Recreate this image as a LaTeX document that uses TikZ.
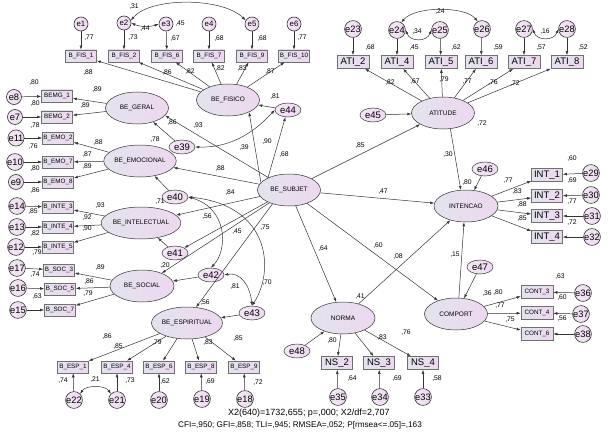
\documentclass[tikz,border=0pt]{standalone}
\usepackage{fontspec}
\setmainfont{Liberation Sans}
\usetikzlibrary{arrows.meta,shapes.geometric}
\definecolor{fillL}{HTML}{E3E3ED}
\definecolor{fillR}{HTML}{EDD8F0}
\definecolor{lineC}{HTML}{333333}
\definecolor{boxD}{HTML}{707070}
\begin{document}
\begin{tikzpicture}[x=1pt,y=-1pt,
  every node/.style={inner sep=0pt},
  box/.style={rectangle, draw=boxD, line width=0.6pt, left color=fillL, right color=fillR, minimum width=31pt, minimum height=12pt, font=\fontsize{6.3}{7}\selectfont},
  bigbox/.style={box, minimum width=32pt, minimum height=13pt, font=\fontsize{9.5}{10}\selectfont},
  lat/.style={ellipse, draw=lineC, line width=0.5pt, left color=fillL, right color=fillR, minimum width=63pt, minimum height=32pt, font=\fontsize{6.5}{7}\selectfont},
  erc/.style={circle, draw=lineC, line width=0.6pt, left color=fillR!60!white, right color=fillR, minimum size=15pt, font=\fontsize{9.3}{9}\selectfont},
  ercs/.style={erc, minimum size=14pt, font=\fontsize{7.8}{8}\selectfont},
  ere/.style={ellipse, draw=lineC, line width=0.5pt, left color=fillR!60!white, right color=fillR, minimum width=26pt, minimum height=14pt, font=\fontsize{9.5}{10}\selectfont},
  lab/.style={font=\fontsize{6.8}{7}\selectfont},
  arr/.style={draw=lineC, line width=0.5pt, -{Latex[length=4pt,width=2.8pt]}},
  cov/.style={draw=lineC, line width=0.5pt, {Latex[length=4pt,width=2.8pt]}-{Latex[length=4pt,width=2.8pt]}},
]
\useasboundingbox (0,0) rectangle (611,436);

% ---------- BE_FISICO block ----------
\node[ercs] (e1) at (81,24) {e1};
\node[ercs] (e2) at (124,23) {e2};
\node[ercs] (e3) at (166,24) {e3};
\node[ercs] (e4) at (209,24) {e4};
\node[ercs] (e5) at (252,24) {e5};
\node[ercs] (e6) at (294,24) {e6};
\node[box] (bf1) at (81,56) {B\_FIS\_1};
\node[box] (bf2) at (124,56) {B\_FIS\_2};
\node[box] (bf6) at (167,56) {B\_FIS\_6};
\node[box] (bf7) at (209,56) {B\_FIS\_7};
\node[box] (bf9) at (252,56) {B\_FIS\_9};
\node[box] (bf10) at (294,56) {B\_FIS\_10};
\node[lat] (bfis) at (228,100) {BE\_FISICO};
\node[ere] (e44) at (288,110) {e44};
\foreach \e/\b in {e1/bf1,e2/bf2,e3/bf6,e4/bf7,e5/bf9,e6/bf10} \draw[arr] (\e) -- (\b);
\foreach \b in {bf1,bf2,bf6,bf7,bf9,bf10} \draw[arr] (bfis) -- (\b);
\draw[arr] (e44) -- (bfis);
\draw[cov] (e2.20) .. controls (150,-3) and (222,-3) .. (e5.150);
\draw[cov] (e2.east) .. controls (140,27) and (150,27) .. (e3.west);
\node[lab] (l1) at (89,38) {,77};
\node[lab] (l2) at (133,38) {,73};
\node[lab] (l3) at (175,39) {,67};
\node[lab] (l4) at (219,39) {,68};
\node[lab] (l5) at (262,39) {,68};
\node[lab] (l6) at (302,38) {,77};
\node[lab] (l7) at (134,7) {,31};
\node[lab] (l8) at (145,29) {,44};
\node[lab] (l9) at (180,24) {,45};
\node[lab] (l10) at (88,73) {,88};
\node[lab] (l11) at (167,73) {,86};
\node[lab] (l12) at (190,72) {,82};
\node[lab] (l13) at (220,69) {,82};
\node[lab] (l14) at (242,69) {,83};
\node[lab] (l15) at (270,72) {,87};
\node[lab] (l16) at (275,97) {,81};

% ---------- BE_GERAL ----------
\node[lat] (bger) at (137,108) {BE\_GERAL};
\node[box] (bm1) at (57,96) {BEMG\_1};
\node[box] (bm2) at (57,117) {BEMG\_2};
\node[erc] (e8) at (14,97) {e8};
\node[erc] (e7) at (15,117) {e7};
\draw[arr] (e8) -- (bm1);
\draw[arr] (e7) -- (bm2);
\draw[arr] (bger) -- (bm1);
\draw[arr] (bger) -- (bm2);
\node[ere] (e39) at (182,147) {e39};
\draw[arr] (e39) -- (bger);
\node[lab] (l17) at (34,83) {,80};
\node[lab] (l18) at (35,104) {,80};
\node[lab] (l19) at (35,126) {,78};
\node[lab] (l20) at (97,90) {,89};
\node[lab] (l21) at (85,106) {,89};
\node[lab] (l22) at (172,123) {,86};

% ---------- BE_EMOCIONAL ----------
\node[lat, minimum width=66pt] (bemo) at (140,161) {BE\_EMOCIONAL};
\node[box] (bo2) at (58,138) {B\_EMO\_2};
\node[box] (bo7) at (58,162) {B\_EMO\_7};
\node[box] (bo8) at (58,182) {B\_EMO\_8};
\node[erc] (e11) at (16,138) {e11};
\node[erc] (e10) at (15,162) {e10};
\node[erc] (e9) at (16,182) {e9};
\draw[arr] (e11) -- (bo2);
\draw[arr] (e10) -- (bo7);
\draw[arr] (e9) -- (bo8);
\foreach \b in {bo2,bo7,bo8} \draw[arr] (bemo) -- (\b);
\node[ere] (e40) at (175,197) {e40};
\draw[arr] (e40) -- (bemo);
\node[lab] (l23) at (98,143) {,88};
\node[lab] (l24) at (87,155) {,87};
\node[lab] (l25) at (87,167) {,89};
\node[lab] (l26) at (33,147) {,76};
\node[lab] (l27) at (35,169) {,80};
\node[lab] (l28) at (35,191) {,86};
\node[lab] (l29) at (155,140) {,78};

% ---------- BE_INTELECTUAL ----------
\node[lat, minimum width=64pt] (bint) at (141,223) {BE\_INTELECTUAL};
\node[box] (bi3) at (58,207) {B\_INTE\_3};
\node[box] (bi4) at (58,227) {B\_INTE\_4};
\node[box] (bi5) at (58,247) {B\_INTE\_5};
\node[erc] (e14) at (17,206) {e14};
\node[erc] (e13) at (17,227) {e13};
\node[erc] (e12) at (16,247) {e12};
\draw[arr] (e14) -- (bi3);
\draw[arr] (e13) -- (bi4);
\draw[arr] (e12) -- (bi5);
\foreach \b in {bi3,bi4,bi5} \draw[arr] (bint) -- (\b);
\node[ere] (e41) at (175,253) {e41};
\draw[arr] (e41) -- (bint);
\node[lab] (l30) at (100,206) {,93};
\node[lab] (l31) at (87,218) {,92};
\node[lab] (l32) at (87,229) {,90};
\node[lab] (l33) at (33,212) {,85};
\node[lab] (l34) at (35,234) {,82};
\node[lab] (l35) at (37,253) {,79};
\node[lab] (l36) at (160,202) {,71};

% ---------- BE_SOCIAL ----------
\node[lat, minimum width=64pt] (bsoc) at (142,286) {BE\_SOCIAL};
\node[box] (bs3) at (59,270) {B\_SOC\_3};
\node[box] (bs5) at (60,289) {B\_SOC\_5};
\node[box] (bs7) at (60,310) {B\_SOC\_7};
\node[erc] (e17) at (17,268) {e17};
\node[erc] (e16) at (18,288) {e16};
\node[erc] (e15) at (18,310) {e15};
\draw[arr] (e17) -- (bs3);
\draw[arr] (e16) -- (bs5);
\draw[arr] (e15) -- (bs7);
\foreach \b in {bs3,bs5,bs7} \draw[arr] (bsoc) -- (\b);
\node[ere] (e42) at (211,275) {e42};
\draw[arr] (e42) -- (bsoc);
\node[lab] (l37) at (100,268) {,89};
\node[lab] (l38) at (89,282) {,86};
\node[lab] (l39) at (88,294) {,79};
\node[lab] (l40) at (35,275) {,74};
\node[lab] (l41) at (37,297) {,63};
\node[lab] (l42) at (165,266) {,20};

% ---------- BE_ESPIRITUAL ----------
\node[lat, minimum width=66pt] (besp) at (187,323) {BE\_ESPIRITUAL};
\node[ere] (e43) at (252,313) {e43};
\draw[arr] (e43) -- (besp);
\node[box] (bp1) at (73,367) {B\_ESP\_1};
\node[box] (bp4) at (117,367) {B\_ESP\_4};
\node[box] (bp6) at (159,367) {B\_ESP\_6};
\node[box] (bp8) at (201,367) {B\_ESP\_8};
\node[box] (bp9) at (244,367) {B\_ESP\_9};
\node[erc] (e22) at (74,400) {e22};
\node[erc] (e21) at (117,400) {e21};
\node[erc] (e20) at (159,400) {e20};
\node[erc] (e19) at (202,399) {e19};
\node[erc] (e18) at (245,399) {e18};
\foreach \e/\b in {e22/bp1,e21/bp4,e20/bp6,e19/bp8,e18/bp9} \draw[arr] (\e) -- (\b);
\foreach \b in {bp1,bp4,bp6,bp8,bp9} \draw[arr] (besp) -- (\b);
\draw[cov] (e22.45) .. controls (86,385) and (105,385) .. (e21.135);
\node[lab] (l43) at (107,337) {,86};
\node[lab] (l44) at (118,347) {,85};
\node[lab] (l45) at (157,343) {,79};
\node[lab] (l46) at (208,343) {,83};
\node[lab] (l47) at (238,339) {,85};
\node[lab] (l48) at (63,381) {,74};
\node[lab] (l49) at (130,381) {,73};
\node[lab] (l50) at (165,382) {,62};
\node[lab] (l51) at (210,382) {,69};
\node[lab] (l52) at (258,383) {,72};
\node[lab] (l53) at (95,380) {,21};
\node[lab] (l54) at (205,303) {,56};

% ---------- BE_SUBJET and second-order paths ----------
\node[lat] (bes) at (289,190) {BE\_SUBJET};
\draw[arr] (bes.165) -- (bfis.-30);
\draw[arr] (bes.150) -- (e44.-110);
\draw[arr] (bes) -- (bger.-15);
\draw[arr] (bes) -- (bemo);
\draw[arr] (bes) -- (bint);
\draw[arr] (bes) -- (e41);
\draw[arr] (bes) -- (bsoc);
\draw[arr] (bes.-140) -- (besp.60);
\draw[cov] (e39.east) .. controls (235,148) and (258,128) .. (e44.west);
\draw[cov] (e40.east) .. controls (228,208) and (228,250) .. (e42.north);
\draw[cov] (e40.east) .. controls (270,205) and (275,270) .. (e43.north);
\draw[cov] (e42.east) .. controls (240,272) and (250,285) .. (e43.north);
\node[lab] (l55) at (198,126) {,93};
\node[lab] (l56) at (267,142) {,90};
\node[lab] (l57) at (284,155) {,68};
\node[lab] (l58) at (244,148) {,39};
\node[lab] (l59) at (220,169) {,88};
\node[lab] (l60) at (230,193) {,84};
\node[lab] (l61) at (207,217) {,56};
\node[lab] (l62) at (237,232) {,45};
\node[lab] (l63) at (265,228) {,75};
\node[lab] (l64) at (235,287) {,81};
\node[lab] (l65) at (267,283) {,70};

% ---------- ATITUDE ----------
\node[lat] (ati) at (443,113) {ATITUDE};
\node[ere] (e45) at (373,115) {e45};
\draw[arr] (e45) -- (ati);
\node[bigbox] (a2) at (353,62) {ATI\_2};
\node[bigbox] (a4) at (397,62) {ATI\_4};
\node[bigbox] (a5) at (441,62) {ATI\_5};
\node[bigbox] (a6) at (481,62) {ATI\_6};
\node[bigbox] (a7) at (524,62) {ATI\_7};
\node[bigbox] (a8) at (567,62) {ATI\_8};
\node[erc, minimum size=16pt] (e23) at (353,29) {e23};
\node[erc, minimum size=16pt] (e24) at (397,30) {e24};
\node[erc, minimum size=16pt] (e25) at (440,30) {e25};
\node[erc, minimum size=16pt] (e26) at (482,29) {e26};
\node[erc, minimum size=16pt] (e27) at (524,29) {e27};
\node[erc, minimum size=16pt] (e28) at (567,29) {e28};
\foreach \e/\b in {e23/a2,e24/a4,e25/a5,e26/a6,e27/a7,e28/a8} \draw[arr] (\e) -- (\b);
\foreach \b in {a2,a4,a5,a6,a7,a8} \draw[arr] (ati) -- (\b);
\draw[cov] (e24.east) .. controls (410,42) and (427,42) .. (e25.west);
\draw[cov] (e24.60) .. controls (415,6) and (465,6) .. (e26.120);
\draw[cov] (e27.east) .. controls (537,41) and (554,41) .. (e28.west);
\draw[arr] (bes) -- (ati);
\node[lab] (l66) at (370,48) {,68};
\node[lab] (l67) at (414,48) {,45};
\node[lab] (l68) at (456,48) {,62};
\node[lab] (l69) at (498,48) {,59};
\node[lab] (l70) at (541,48) {,57};
\node[lab] (l71) at (583,48) {,52};
\node[lab] (l72) at (390,83) {,82};
\node[lab] (l73) at (415,82) {,67};
\node[lab] (l74) at (444,80) {,79};
\node[lab] (l75) at (467,82) {,77};
\node[lab] (l76) at (493,83) {,76};
\node[lab] (l77) at (515,84) {,72};
\node[lab] (l78) at (482,124) {,72};
\node[lab] (l79) at (417,32) {,34};
\node[lab] (l80) at (440,12) {,24};
\node[lab] (l81) at (545,32) {,16};
\node[lab] (l82) at (360,146) {,85};

% ---------- INTENCAO ----------
\node[lat, minimum width=64pt] (int) at (466,206) {INTENCAO};
\node[ere] (e46) at (485,169) {e46};
\draw[arr] (e46) -- (int);
\draw[arr] (ati.-65) -- (int.108);
\draw[arr] (bes) -- (int);
\node[bigbox, minimum width=31pt] (i1) at (547,175) {INT\_1};
\node[bigbox, minimum width=31pt] (i2) at (547,196) {INT\_2};
\node[bigbox, minimum width=31pt] (i3) at (547,216) {INT\_3};
\node[bigbox, minimum width=31pt] (i4) at (547,237) {INT\_4};
\node[erc, minimum size=16pt] (e29) at (591,173) {e29};
\node[erc, minimum size=16pt] (e30) at (591,195) {e30};
\node[erc, minimum size=16pt] (e31) at (592,216) {e31};
\node[erc, minimum size=16pt] (e32) at (592,237) {e32};
\foreach \e/\b in {e29/i1,e30/i2,e31/i3,e32/i4} \draw[arr] (\e) -- (\b);
\foreach \b in {i1,i2,i3,i4} \draw[arr] (int) -- (\b);
\node[lab] (l83) at (467,183) {,80};
\node[lab] (l84) at (448,155) {,30};
\node[lab] (l85) at (383,192) {,47};
\node[lab] (l86) at (572,159) {,60};
\node[lab] (l87) at (572,181) {,69};
\node[lab] (l88) at (572,202) {,77};
\node[lab] (l89) at (572,223) {,72};
\node[lab] (l90) at (508,181) {,77};
\node[lab] (l91) at (517,192) {,83};
\node[lab] (l92) at (522,205) {,88};
\node[lab] (l93) at (522,219) {,85};

% ---------- NORMA ----------
\node[lat, minimum width=64pt] (norma) at (343,318) {NORMA};
\node[ere] (e48) at (297,351) {e48};
\draw[arr] (e48) -- (norma);
\draw[arr] (bes) -- (norma);
\draw[arr] (norma) -- (int);
\node[bigbox, minimum width=31pt] (n2) at (337,363) {NS\_2};
\node[bigbox, minimum width=31pt] (n3) at (379,363) {NS\_3};
\node[bigbox, minimum width=31pt] (n4) at (423,363) {NS\_4};
\node[erc] (e35) at (338,397) {e35};
\node[erc] (e34) at (380,397) {e34};
\node[erc] (e33) at (423,397) {e33};
\foreach \e/\b in {e35/n2,e34/n3,e33/n4} \draw[arr] (\e) -- (\b);
\foreach \b in {n2,n3,n4} \draw[arr] (norma) -- (\b);
\node[lab] (l94) at (323,249) {,64};
\node[lab] (l95) at (360,297) {,41};
\node[lab] (l96) at (398,257) {,08};
\node[lab] (l97) at (332,341) {,80};
\node[lab] (l98) at (382,338) {,83};
\node[lab] (l99) at (406,333) {,76};
\node[lab] (l100) at (352,379) {,64};
\node[lab] (l101) at (397,379) {,69};
\node[lab] (l102) at (437,379) {,58};

% ---------- COMPORT ----------
\node[lat] (comp) at (456,314) {COMPORT};
\node[ere] (e47) at (480,267) {e47};
\draw[arr] (e47) -- (comp);
\draw[arr] (bes) -- (comp);
\draw[arr] (comp.80) -- (int.-97);
\node[box, minimum width=32pt, minimum height=13pt] (c3) at (537,292) {CONT\_3};
\node[box, minimum width=32pt, minimum height=13pt] (c4) at (537,313) {CONT\_4};
\node[box, minimum width=32pt, minimum height=13pt] (c6) at (537,334) {CONT\_6};
\node[erc] (e36) at (583,293) {e36};
\node[erc] (e37) at (581,314) {e37};
\node[erc] (e38) at (583,334) {e38};
\foreach \e/\b in {e36/c3,e37/c4,e38/c6} \draw[arr] (\e) -- (\b);
\foreach \b in {c3,c4,c6} \draw[arr] (comp) -- (\b);
\node[lab] (l103) at (378,246) {,60};
\node[lab] (l104) at (455,255) {,15};
\node[lab] (l105) at (487,294) {,36};
\node[lab] (l106) at (498,293) {,80};
\node[lab] (l107) at (560,277) {,63};
\node[lab] (l108) at (562,298) {,60};
\node[lab] (l109) at (562,319) {,56};
\node[lab] (l110) at (500,306) {,77};
\node[lab] (l111) at (510,320) {,75};

% ---------- fit indices ----------
\node[font=\fontsize{9}{10}\selectfont, anchor=west] (fit1) at (228,413) {X2(640)=1732,655; p=,000; X2/df=2,707};
\node[font=\fontsize{8.2}{9}\selectfont] (fit2) at (300,425) {CFI=,950; GFI=,858; TLI=,945; RMSEA=,052; P[rmsea<=.05]=,163};
\end{tikzpicture}
\end{document}
